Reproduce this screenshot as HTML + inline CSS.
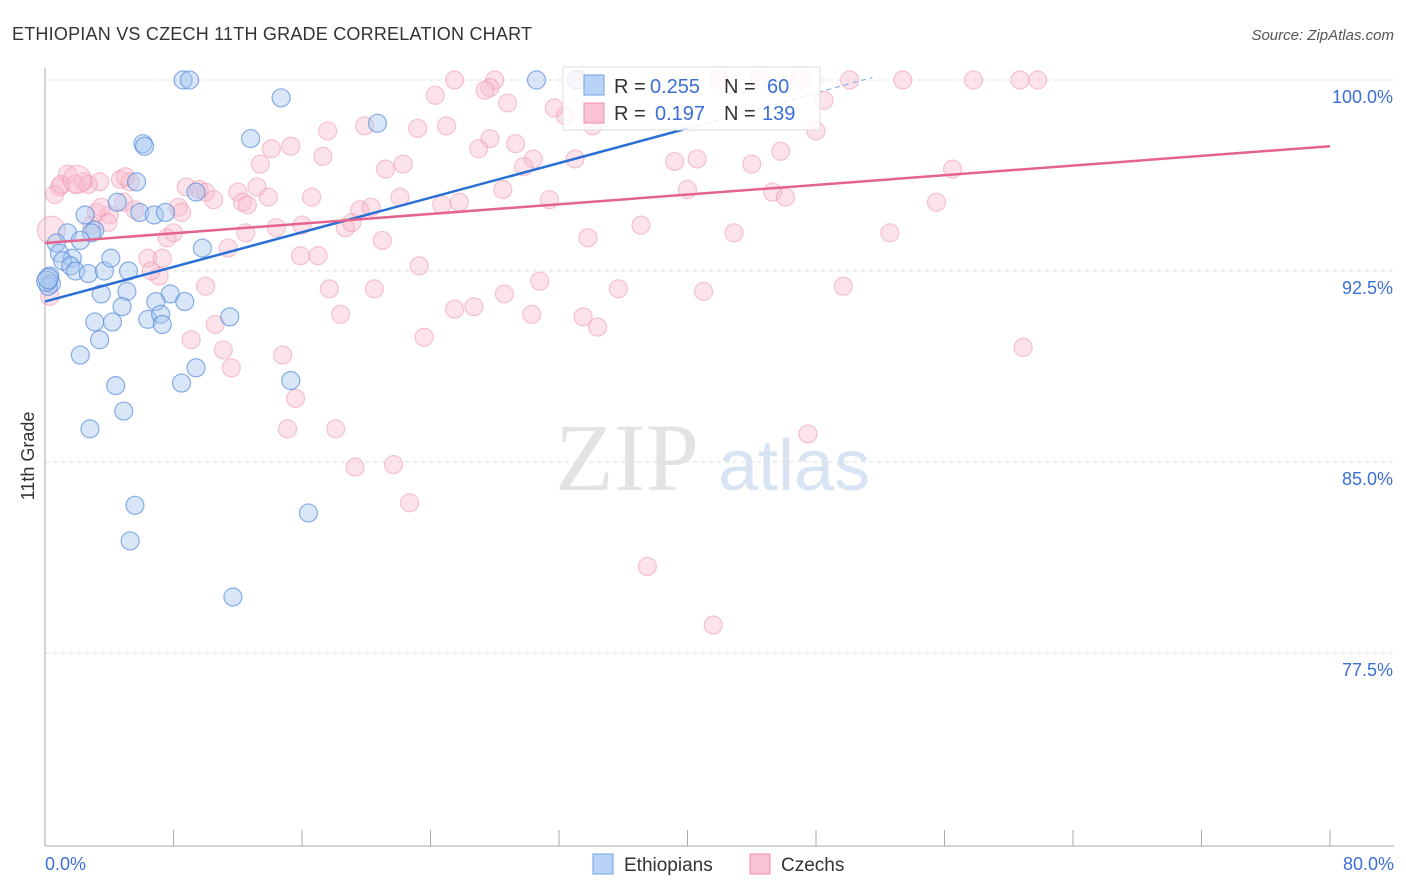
<!DOCTYPE html>
<html><head><meta charset="utf-8"><style>
body{margin:0;background:#fff;font-family:"Liberation Sans",sans-serif}
svg{display:block}
</style></head><body>
<svg id="c" width="1406" height="892">
<text x="12" y="40" font-size="18" fill="#333" textLength="520">ETHIOPIAN VS CZECH 11TH GRADE CORRELATION CHART</text>
<text x="1394" y="40" font-size="15" fill="#555" text-anchor="end" font-style="italic">Source: ZipAtlas.com</text>
<text x="34" y="456" font-size="18" fill="#333" text-anchor="middle" transform="rotate(-90 34 456)">11th Grade</text>
<g><text x="555" y="490" font-size="96" fill="#ddd" font-family="Liberation Serif,serif" opacity="0.8">ZIP</text><text x="718" y="490" font-size="72" fill="#c8d8f0" opacity="0.7">atlas</text></g>
<g id="grid"></g><g id="axes"></g><g id="pts"></g><g id="trend"></g>
<g>
<rect x="563" y="67" width="257" height="63" fill="#fff" fill-opacity="0.8" stroke="#ddd"/>
<rect x="584" y="75" width="20" height="20" fill="#b8d3f5" stroke="#6fa0e6"/>
<rect x="584" y="103" width="20" height="20" fill="#f9c3d3" stroke="#ef8fac"/>
<text y="93" font-size="20" fill="#333"><tspan x="614">R =</tspan><tspan x="650" fill="#3b6fd4">0.255</tspan><tspan x="724">N =</tspan><tspan x="767" fill="#3b6fd4">60</tspan></text>
<text y="120" font-size="20" fill="#333"><tspan x="614">R =</tspan><tspan x="655" fill="#3b6fd4">0.197</tspan><tspan x="724">N =</tspan><tspan x="762" fill="#3b6fd4">139</tspan></text>
</g>
<g>
<rect x="593" y="854" width="20" height="20" fill="#b8d3f5" stroke="#6fa0e6"/>
<text x="624" y="871" font-size="19" fill="#333">Ethiopians</text>
<rect x="750" y="854" width="20" height="20" fill="#f9c3d3" stroke="#ef8fac"/>
<text x="781" y="871" font-size="19" fill="#333">Czechs</text>
</g>
</svg>
<script>
const yTicks=[100,92.5,85,77.5];
const yTickLabels=["100.0%","92.5%","85.0%","77.5%"];
const xLabels=["0.0%","80.0%"];
const blueX=[8.6,9.0,30.6,33.1,14.7,20.7,12.8,6.1,6.2,5.7,4.5,9.4,5.9,6.8,7.5,2.5,3.1,2.9,1.4,2.2,0.7,0.9,1.7,1.1,1.6,1.9,2.7,3.7,5.2,4.1,9.8,0.3,0.4,0.2,3.5,5.1,7.8,6.9,8.7,4.8,3.1,4.2,6.4,7.2,7.3,11.5,3.4,2.2,9.4,8.5,4.4,15.3,4.9,2.8,5.6,16.4,5.3,11.7,0.1,0.2];
const blueY=[100,100,100,100,99.3,98.3,97.7,97.5,97.4,96.0,95.2,95.6,94.8,94.7,94.8,94.7,94.1,94.0,94.0,93.7,93.6,93.2,93.0,92.9,92.7,92.5,92.4,92.5,92.5,93.0,93.4,92.3,92.0,91.9,91.6,91.7,91.6,91.3,91.3,91.1,90.5,90.5,90.6,90.8,90.4,90.7,89.8,89.2,88.7,88.1,88.0,88.2,87.0,86.3,83.3,83.0,81.9,79.7,92.1,92.2];
const pinkX=[25.5,28.0,33.3,42.0,44.5,47.0,50.1,53.4,57.8,60.7,61.8,27.7,24.3,27.4,28.8,48.5,31.7,32.4,34.2,34.1,19.9,17.6,23.2,25.0,48.0,27.7,29.3,27.0,15.3,14.1,17.3,33.0,30.4,40.6,39.2,45.8,44.0,13.4,21.2,22.3,29.8,56.5,1.4,3.4,4.7,5.3,2.4,0.9,1.9,2.7,0.6,8.8,9.6,10.0,13.2,12.0,10.5,12.3,12.6,13.9,16.6,22.1,28.5,25.8,24.7,31.4,40.0,45.3,46.1,55.5,19.6,20.3,4.9,3.2,4.0,5.6,2.9,3.9,8.3,8.5,16.0,14.4,18.7,19.1,12.5,8.0,7.6,11.4,21.0,33.8,37.1,42.9,52.6,0.4,6.4,7.3,7.1,6.6,15.9,17.0,23.3,30.8,17.7,20.5,10.0,35.7,41.0,49.7,28.6,25.5,26.7,30.3,18.4,33.5,34.4,10.6,9.1,23.6,11.1,14.8,60.9,11.6,15.6,15.1,18.1,47.5,19.3,21.7,22.7,37.5,41.6,0.3,1.0,2.0,5.0,3.5];
const pinkY=[100,100,100,100,100,100,100,100,100,100,100,99.7,99.4,99.6,99.1,99.2,98.9,98.6,98.6,98.2,98.2,98.0,98.1,98.2,98.0,97.7,97.5,97.3,97.4,97.3,97.0,96.9,96.9,96.9,96.8,97.2,96.7,96.7,96.5,96.7,96.6,96.5,96.3,96.0,96.1,96.0,96.0,95.8,95.9,95.9,95.5,95.8,95.7,95.6,95.8,95.6,95.3,95.2,95.1,95.4,95.4,95.4,95.7,95.2,95.1,95.3,95.7,95.6,95.4,95.2,94.9,95.0,95.2,94.8,94.7,94.9,94.3,94.4,95.0,94.8,94.3,94.2,94.2,94.4,94.0,94.0,93.8,93.4,93.7,93.8,94.3,94.0,94.0,94.1,93.0,93.0,92.3,92.5,93.1,93.1,92.7,92.1,91.8,91.8,91.9,91.8,91.7,91.9,91.6,91.0,91.1,90.8,90.8,90.7,90.3,90.4,89.8,89.9,89.4,89.2,89.5,88.7,87.5,86.3,86.3,86.1,84.8,84.9,83.4,80.9,78.6,91.5,95.9,96.1,96.2,95.0];
const blueBig=[58,59];
const pinkBig=[93,133];
const blueTrend=[[0,91.3],[40,98.1]];
const blueTrendExt=[[40,98.1],[51.5,100.1]];
const pinkTrend=[[0,93.6],[80,97.4]];
const NS="http://www.w3.org/2000/svg";
const X=v=>45+v/80*1285, Y=v=>80+(100-v)*25.467;
function mk(t,a,p){const e=document.createElementNS(NS,t);for(const k in a)e.setAttribute(k,a[k]);p.appendChild(e);return e;}
const grid=document.getElementById('grid'),axes=document.getElementById('axes'),pts=document.getElementById('pts'),tr=document.getElementById('trend');
yTicks.forEach((t,i)=>{
 const l=mk('line',{x1:45,x2:1394,y1:Y(t),y2:Y(t),stroke:'#ddd','stroke-dasharray':'4 4'},grid);
 
 
 const tx=mk('text',{x:1393,y:Y(t)+23,'font-size':18,fill:'#3b6fd4','text-anchor':'end'},axes);
 tx.textContent=yTickLabels[i];
 
 
});
const ax=mk('line',{x1:45,x2:45,y1:68,y2:846,stroke:'#aaa'},axes);


const bx=mk('line',{x1:45,x2:1394,y1:846,y2:846,stroke:'#aaa'},axes);


for(let i=0;i<=10;i++){const tk=mk('line',{x1:X(i*8),x2:X(i*8),y1:830,y2:846,stroke:'#aaa'},axes);
 
 }
const xl0=mk('text',{x:45,y:870,'font-size':18,fill:'#3b6fd4'},axes);xl0.textContent=xLabels[0];


const xl1=mk('text',{x:1394,y:870,'font-size':18,fill:'#3b6fd4','text-anchor':'end'},axes);xl1.textContent=xLabels[1];


pinkX.forEach((v,i)=>{const c=mk('circle',{cx:X(v),cy:Y(pinkY[i]),r:pinkBig.includes(i)?14:9,fill:'#f7b8cb','fill-opacity':0.4,stroke:'#ee90ad','stroke-opacity':0.5,'stroke-width':1.2},pts);
 
 });
blueX.forEach((v,i)=>{const c=mk('circle',{cx:X(v),cy:Y(blueY[i]),r:blueBig.includes(i)?10:9,fill:'#a9c8f0','fill-opacity':0.45,stroke:'#4f86dc','stroke-opacity':0.65,'stroke-width':1.2},pts);
 
 });
const b=mk('line',{x1:X(blueTrend[0][0]),y1:Y(blueTrend[0][1]),x2:X(blueTrend[1][0]),y2:Y(blueTrend[1][1]),stroke:'#2a6fd6','stroke-width':2.5},tr);


const bd=mk('line',{x1:X(blueTrendExt[0][0]),y1:Y(blueTrendExt[0][1]),x2:X(blueTrendExt[1][0]),y2:Y(blueTrendExt[1][1]),stroke:'#8fb2e8','stroke-width':1.2,'stroke-dasharray':'5 4'},tr);


const p=mk('line',{x1:X(pinkTrend[0][0]),y1:Y(pinkTrend[0][1]),x2:X(pinkTrend[1][0]),y2:Y(pinkTrend[1][1]),stroke:'#e4648d','stroke-width':2.5},tr);


</script>
</body></html>
